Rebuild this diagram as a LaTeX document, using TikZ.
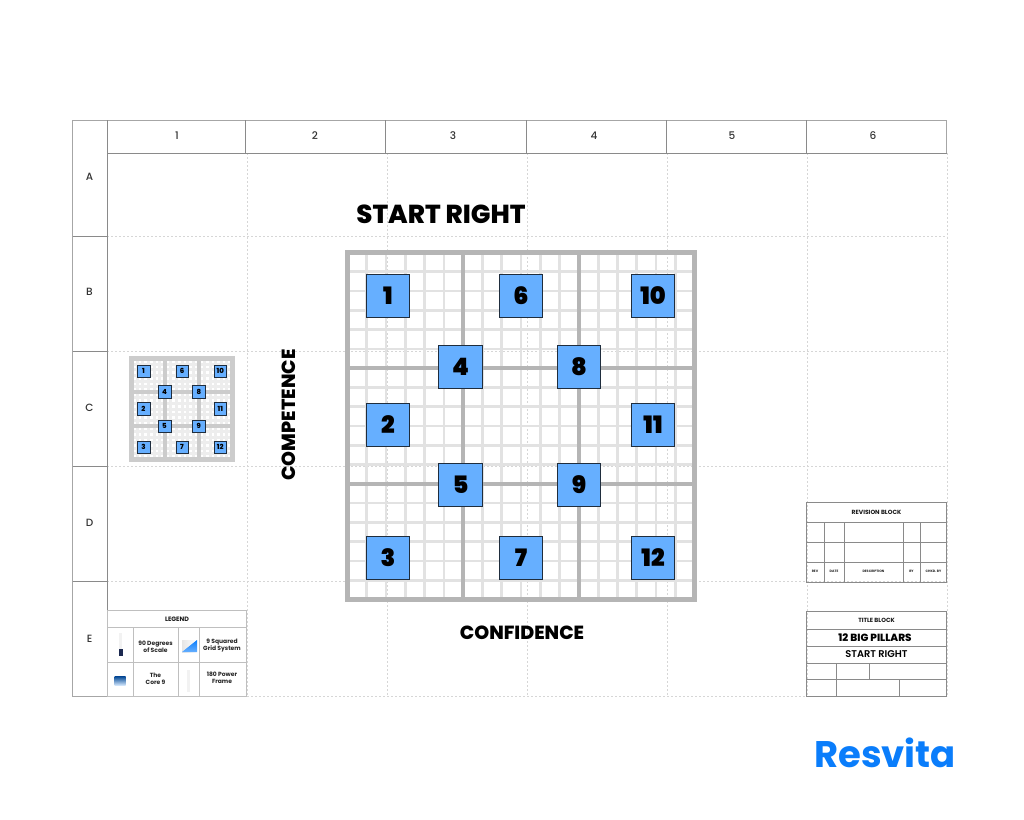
\documentclass[tikz,border=0pt]{standalone}
\usepackage{fontspec}
\setmainfont{Poppins}[BoldFont={Poppins Black}]
\newfontfamily\popsemi{Poppins SemiBold}
\newfontfamily\popbold{Poppins}[BoldFont={Poppins Bold}]
\newfontfamily\popxb{Poppins ExtraBold}
\newfontfamily\hdr{Poppins Medium}
\definecolor{pblue}{HTML}{66AFFF}
\definecolor{pedge}{HTML}{1F2D3D}
\definecolor{frame}{HTML}{B5B5B5}
\definecolor{minor}{HTML}{E2E2E2}
\definecolor{rule}{HTML}{8A8A8A}
\definecolor{dots}{HTML}{D6D6D6}
\definecolor{logo}{HTML}{0A7DFB}
\tikzset{
  sheetline/.style={draw=rule,line width=.7pt},
  dotline/.style={draw=dots,line width=.6pt,dash pattern=on 2pt off 2pt},
  legline/.style={draw=black!25,line width=.7pt},
  hdrlabel/.style={font=\hdr\fontsize{10.5}{11}\selectfont,text=black!80},
  bigtext/.style={font=\popxb\fontsize{#1}{#1}\selectfont,text=black,inner sep=0pt},
  smalltext/.style={font=\popbold\bfseries\fontsize{6}{7.4}\selectfont,text=black!85,align=center,inner sep=0pt},
  tinytext/.style={font=\popbold\bfseries\fontsize{3.3}{4}\selectfont,text=black!85,inner sep=0pt},
  labeltext/.style={font=\popbold\bfseries\fontsize{#1}{#1}\selectfont,text=black!90,inner sep=0pt},
  mminor/.style={draw=minor,line width=2.7pt},
  minner/.style={draw=frame,line width=4.2pt},
  mframe/.style={draw=frame,line width=5.5pt},
  mbox/.style={line width=1.1pt,font=\bfseries\fontsize{24}{24}\selectfont},
  sminor/.style={draw=black!7,line width=3pt},
  sinner/.style={draw=black!20,line width=3.6pt},
  sframe/.style={draw=black!20,line width=5pt},
  sbox/.style={line width=.45pt,font=\popxb\fontsize{7}{7}\selectfont},
}
\newcommand{\pillargrid}[4]{%
  % #1 prefix, #2 x, #3 y, #4 scale
  \begin{scope}[shift={(#2,#3)},x=#4pt,y=-#4pt]
    \foreach \i in {1,...,17}{
      \draw[#1minor] ({2.5+\i*19.28},2.5) -- ({2.5+\i*19.28},349.5);
      \draw[#1minor] (2.5,{2.5+\i*19.28}) -- (349.5,{2.5+\i*19.28});
    }
    \foreach \i in {6,12}{
      \draw[#1inner] ({2.5+\i*19.28},2.5) -- ({2.5+\i*19.28},349.5);
      \draw[#1inner] (2.5,{2.5+\i*19.28}) -- (349.5,{2.5+\i*19.28});
    }
    \draw[#1frame] (2.5,2.5) rectangle (349.5,349.5);
    \foreach \n/\px/\py in {1/43/46,6/176/46,10/308/46,4/115.5/117,8/234/117,2/43/175,11/308/175,5/115.5/235,9/234/235,3/43/308,7/176/308,12/308/308}{
      \node[draw=pedge,fill=pblue,minimum size=#4*43.5pt,inner sep=0pt,text=black,#1box] (#1\n) at (\px,\py) {\n};
    }
  \end{scope}}
\begin{document}
\begin{tikzpicture}[x=1pt,y=-1pt]
\useasboundingbox (0,0) rectangle (1024,819);
\fill[white] (0,0) rectangle (1024,819);
% dotted field
\foreach \x in {247,387,527,667,807,947} \draw[dotline] (\x,153) -- (\x,696);
\foreach \y in {236,351,466,581,696} \draw[dotline] (107,\y) -- (947,\y);
% sheet frame
\draw[draw=black!35,line width=.7pt] (107,696) -- (72.5,696) -- (72.5,120) -- (946.5,120) -- (946.5,153);
\draw[sheetline] (107,120) -- (107,696);
\draw[sheetline] (107,153) -- (946.5,153);
\foreach \x in {245,385,526,666,806} \draw[sheetline] (\x,120) -- (\x,153);
\foreach \y in {236,351,466,581} \draw[sheetline] (72.5,\y) -- (107,\y);
\foreach \t/\x in {1/177,2/315,3/453,4/594,5/732,6/873} \node[hdrlabel] (col\t) at (\x,136) {\t};
\foreach \t/\y in {A/177,B/292,C/408,D/523,E/639} \node[hdrlabel] (row\t) at (89.5,\y) {\t};
% titles
\node[bigtext=26] (title) at (441,214) {START RIGHT};
\node[bigtext=19,rotate=90] (ylab) at (289,415) {COMPETENCE};
\node[bigtext=19] (xlab) at (522,633) {CONFIDENCE};
% grids
\pillargrid{m}{345}{250}{1}
\pillargrid{s}{131}{358}{.29}
% legend
\draw[legline] (107,610) rectangle (246.5,696);
\draw[legline] (107,627) -- (246.5,627) (107,662) -- (246.5,662);
\draw[legline] (133,627) -- (133,696) (178,627) -- (178,696) (199,627) -- (199,696);
\node[labeltext=6.3] (leg) at (177,619) {LEGEND};
\node[smalltext] (l1) at (155.5,647) {90 Degrees\\of Scale};
\node[smalltext] (l2) at (222,645.5) {9 Squared\\Grid System};
\node[smalltext] (l3) at (155.5,678.5) {The\\Core 9};
\node[smalltext] (l4) at (222,678) {180 Power\\Frame};
\fill[black!5] (119,633) rectangle (122,650);
\fill[pedge!90!blue] (118.5,649) rectangle (122.5,656);
\shade[left color=black!10,right color=white] (182,640) rectangle (197,652);
\shade[bottom color=pblue,top color=logo] (182,652) -- (197,640) -- (197,652) -- cycle;
\shade[top color=logo!60!black,bottom color=pblue!25] (114.5,676.5) rectangle (125.5,685.5);
\fill[black!5] (187,670) rectangle (190,692);
% revision block
\draw[sheetline] (806,502) rectangle (946.5,582);
\draw[sheetline] (806,522) -- (946.5,522) (806,542) -- (946.5,542) (806,562) -- (946.5,562);
\draw[sheetline] (824,522) -- (824,582) (844,522) -- (844,582) (903,522) -- (903,582) (920,522) -- (920,582);
\node[labeltext=6] (rev) at (876.5,512) {REVISION BLOCK};
\node[tinytext] (r1) at (815,571.5) {REV};
\node[tinytext] (r2) at (834,571.5) {DATE};
\node[tinytext] (r3) at (873.5,571.5) {DESCRIPTION};
\node[tinytext] (r4) at (911.5,571.5) {BY};
\node[tinytext] (r5) at (933.5,571.5) {CHKD. BY};
% title block
\draw[sheetline] (806,611) rectangle (946.5,696);
\draw[sheetline] (806,629) -- (946.5,629) (806,646) -- (946.5,646) (806,663) -- (946.5,663) (806,679) -- (946.5,679);
\draw[sheetline] (836,663) -- (836,696) (869,663) -- (869,679) (899,679) -- (899,696);
\node[labeltext=6] (tb) at (876.5,620) {TITLE BLOCK};
\node[font=\popxb\fontsize{10.4}{12}\selectfont,inner sep=0pt] (tb1) at (875,637.5) {12 BIG PILLARS};
\node[font=\popsemi\fontsize{9.8}{11}\selectfont,inner sep=0pt] (tb2) at (876.5,654) {START RIGHT};
% logo
\node[font=\popbold\bfseries\fontsize{37}{37}\selectfont,text=logo,inner sep=0pt] (brand) at (885,753) {Resvita};
\end{tikzpicture}
\end{document}
